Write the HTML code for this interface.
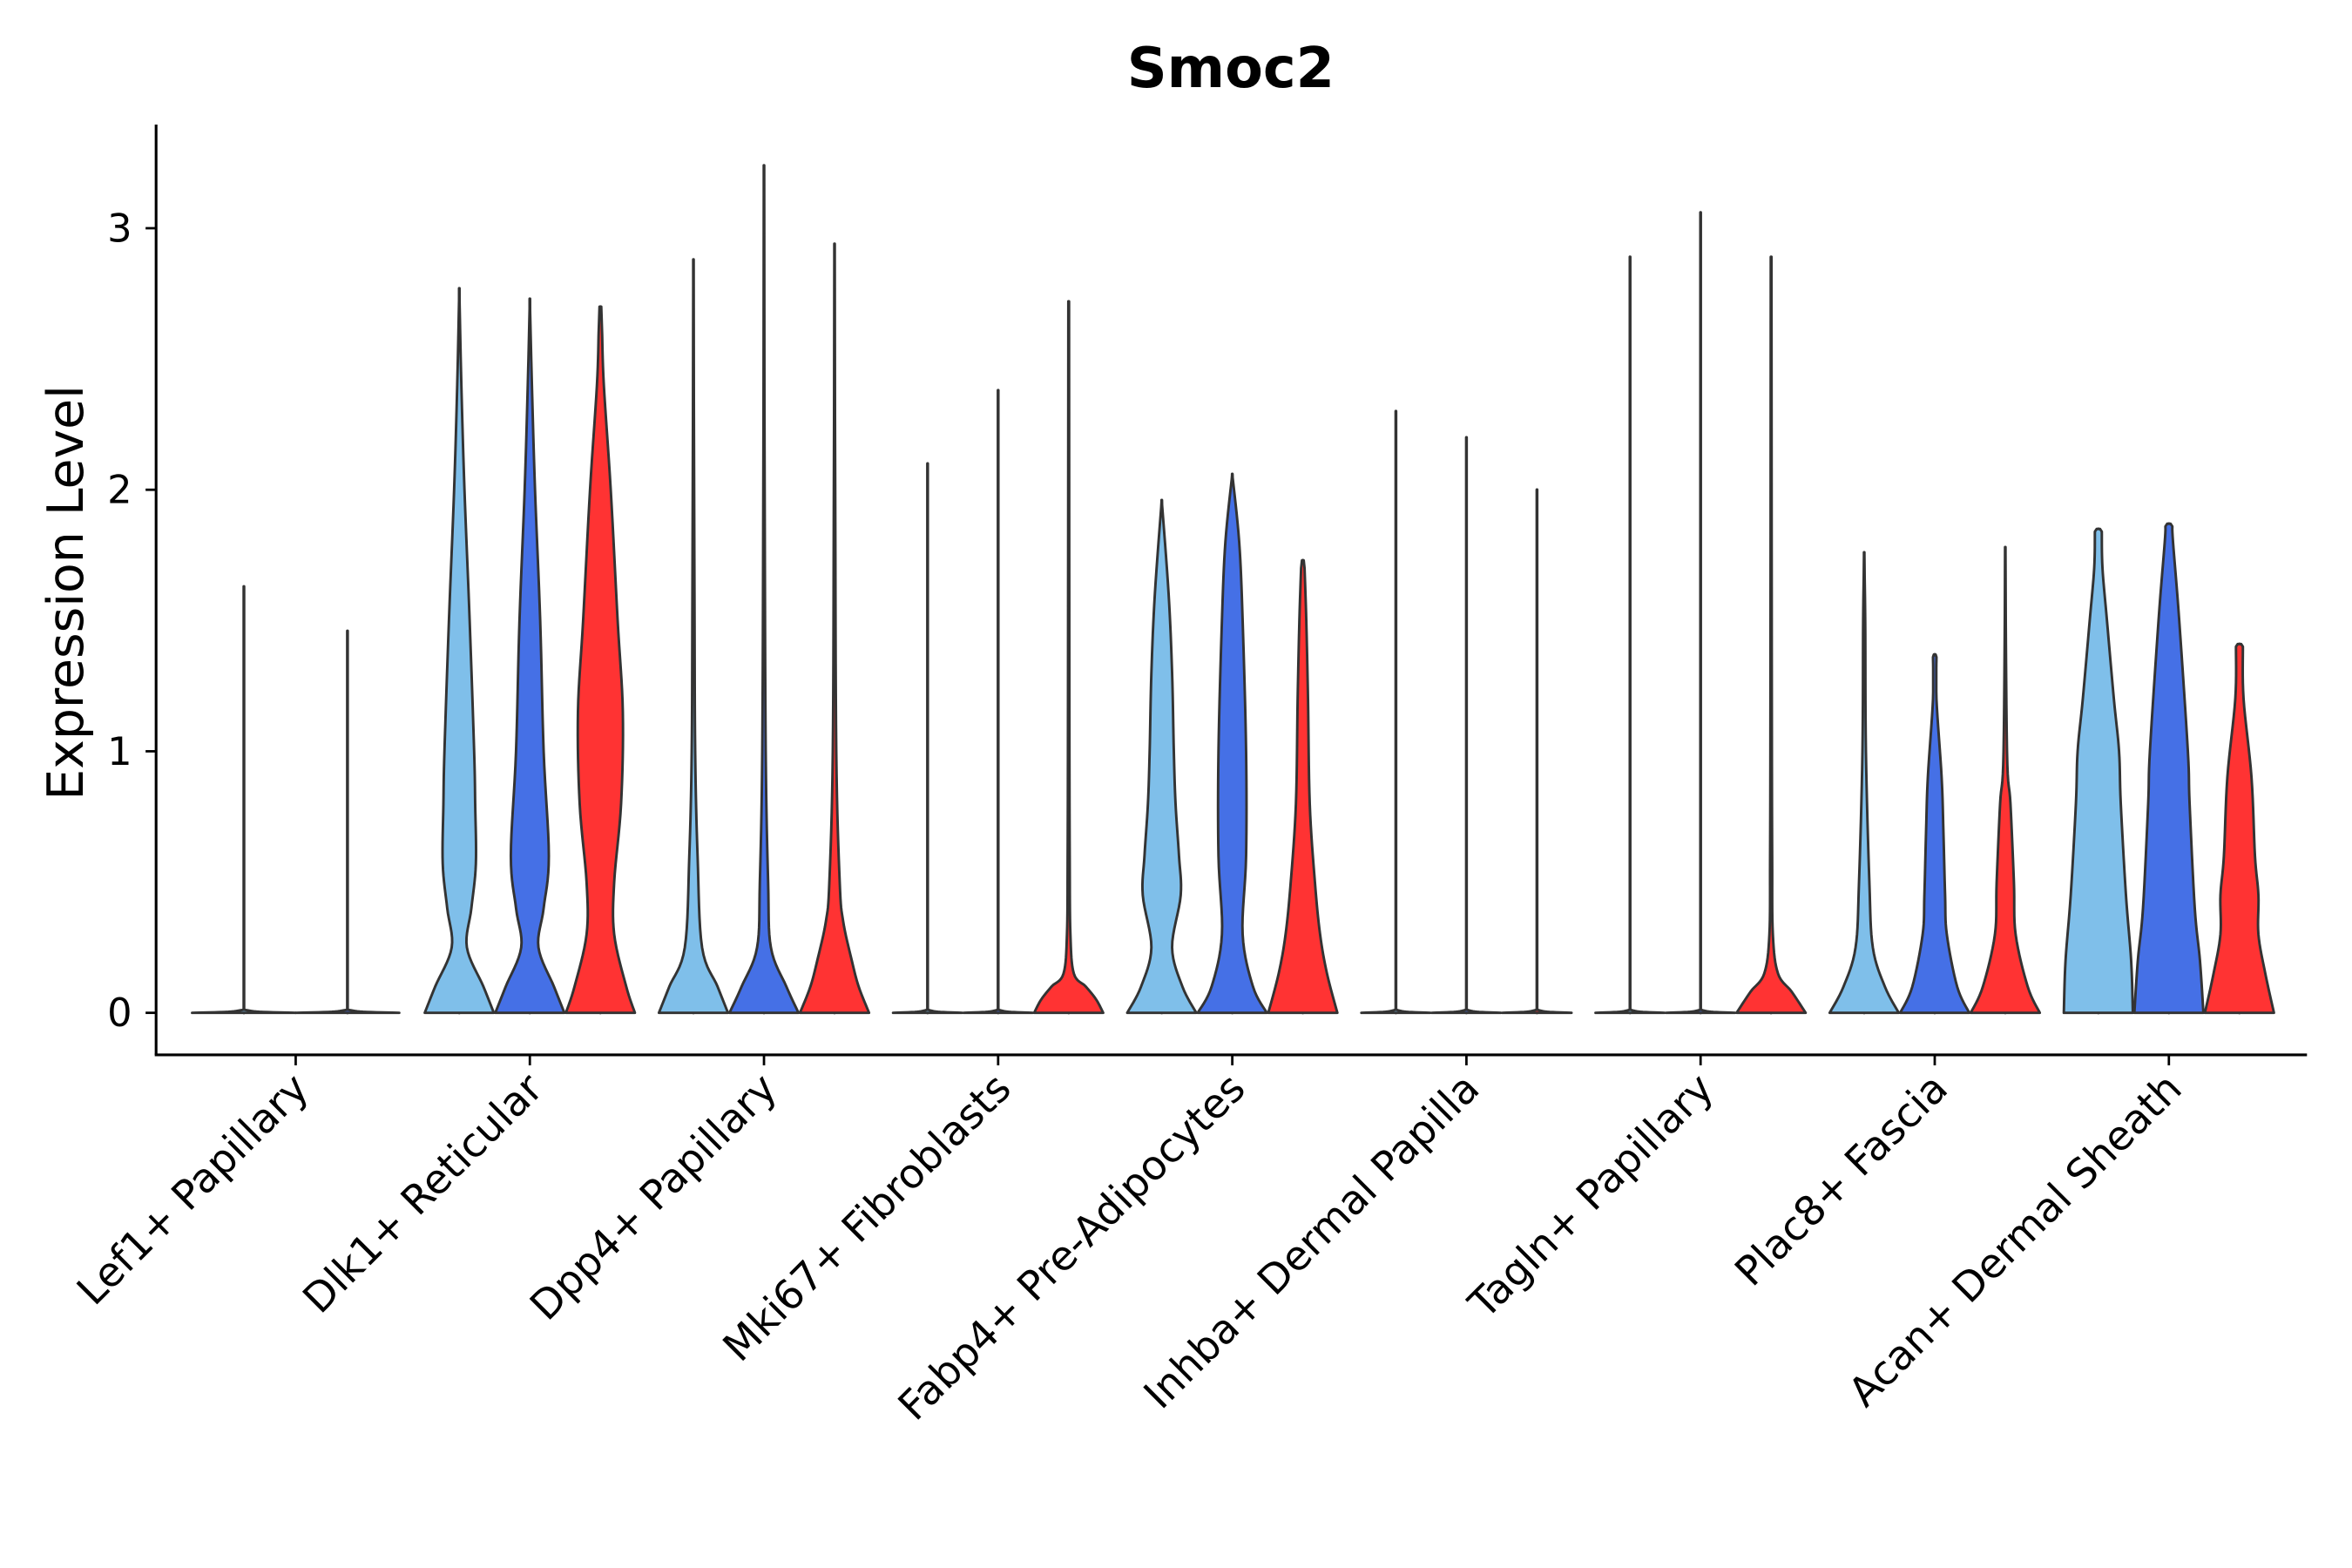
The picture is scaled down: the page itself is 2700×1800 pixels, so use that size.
<!DOCTYPE html>
<html><head><meta charset="utf-8"><style>
html,body{margin:0;padding:0;background:#fff;}
svg{display:block;font-family:"DejaVu Sans","Liberation Sans",sans-serif;}
</style></head><body>
<svg id="chart" width="2700" height="1800" viewBox="0 0 1567 1045" preserveAspectRatio="none" xmlns="http://www.w3.org/2000/svg">
<rect x="0" y="0" width="1567" height="1045" fill="#fff"/>
<text x="820" y="58" text-anchor="middle" font-size="37" font-weight="bold" fill="#000" font-family="DejaVu Sans, sans-serif">Smoc2</text>
<text transform="translate(55,395) rotate(-90)" text-anchor="middle" font-size="33" fill="#000" font-family="DejaVu Sans, sans-serif">Expression Level</text>
<g id="plot"></g>
</svg>
<script>
const categories = ["Lef1+ Papillary","Dlk1+ Reticular","Dpp4+ Papillary","Mki67+ Fibroblasts","Fabp4+ Pre-Adipocytes","Inhba+ Dermal Papilla","Tagln+ Papillary","Plac8+ Fascia","Acan+ Dermal Sheath"];
const yTicks = [0,1,2,3];
const groupColors = ["#7fbfea","#4570e6","#ff3333"];
const violinCategory = [0,0, 1,1,1, 2,2,2, 3,3,3, 4,4,4, 5,5,5, 6,6,6, 7,7,7, 8,8,8];
const violinGroup    = [0,1, 0,1,2, 0,1,2, 0,1,2, 0,1,2, 0,1,2, 0,1,2, 0,1,2, 0,1,2];
const violinMax      = [1.63,1.46, 2.77,2.73,2.70, 2.88,3.24,2.94, 2.10,2.38,2.72, 1.96,2.06,1.73, 2.30,2.20,2.00, 2.89,3.06,2.89, 1.76,1.37,1.78, 1.85,1.87,1.41];
const FLAT_Y = [0,0.004,0.012];
const FLAT_W = [1,0.3,0];
const profileY = [
 FLAT_Y, FLAT_Y,
 [0,0.1,0.25,0.4,0.57,0.8,1.0,1.5,2.0,2.4,2.77],
 [0,0.1,0.25,0.4,0.6,1.0,1.5,2.0,2.4,2.73],
 [0,0.1,0.3,0.5,0.8,1.15,1.5,2.0,2.4,2.6],
 [0,0.1,0.25,0.6,1.0,1.6,2.88],
 [0,0.1,0.25,0.5,1.0,2.0,3.24],
 [0,0.1,0.2,0.35,0.5,1.0,2.0,2.94],
 FLAT_Y, FLAT_Y,
 [0,0.05,0.1,0.15,0.3,0.6,1.2,2.72],
 [0,0.1,0.25,0.45,0.6,0.8,1.0,1.3,1.6,1.96],
 [0,0.1,0.3,0.6,1.0,1.5,1.8,2.06],
 [0,0.15,0.3,0.5,0.8,1.2,1.5,1.7],
 FLAT_Y, FLAT_Y, FLAT_Y,
 FLAT_Y, FLAT_Y,
 [0,0.08,0.15,0.3,0.6,1.2,2.89],
 [0,0.1,0.25,0.5,1.0,1.5,1.76],
 [0,0.1,0.3,0.45,0.7,0.9,1.2,1.36],
 [0,0.1,0.3,0.5,0.8,1.0,1.78],
 [0,0.2,0.45,0.8,1.0,1.2,1.5,1.7,1.84],
 [0,0.2,0.4,0.8,1.0,1.5,1.8,1.86],
 [0,0.15,0.3,0.45,0.6,0.9,1.2,1.40]
];
const profileW = [
 FLAT_W, FLAT_W,
 [1,0.7,0.22,0.35,0.48,0.46,0.43,0.3,0.15,0.06,0],
 [1,0.7,0.25,0.4,0.55,0.4,0.3,0.15,0.06,0],
 [1,0.75,0.4,0.4,0.6,0.65,0.5,0.3,0.1,0.05],
 [1,0.7,0.25,0.12,0.05,0.03,0],
 [1,0.65,0.2,0.12,0.05,0.02,0],
 [1,0.7,0.5,0.25,0.15,0.05,0.02,0],
 FLAT_W, FLAT_W,
 [1,0.8,0.5,0.15,0.05,0.03,0.02,0.01],
 [1,0.6,0.3,0.55,0.5,0.4,0.35,0.3,0.2,0],
 [1,0.6,0.3,0.4,0.4,0.3,0.2,0],
 [1,0.7,0.5,0.35,0.2,0.15,0.1,0.05],
 FLAT_W, FLAT_W, FLAT_W,
 FLAT_W, FLAT_W,
 [1,0.6,0.2,0.05,0.03,0.02,0.01],
 [1,0.6,0.25,0.15,0.05,0.03,0],
 [1,0.65,0.35,0.3,0.25,0.2,0.05,0.05],
 [1,0.65,0.3,0.25,0.15,0.05,0],
 [1,0.95,0.8,0.65,0.6,0.45,0.25,0.12,0.1],
 [1,0.9,0.75,0.6,0.55,0.3,0.12,0.1],
 [1,0.75,0.55,0.55,0.45,0.35,0.12,0.1]
];

const NS="http://www.w3.org/2000/svg";
const plot=document.getElementById('plot');
const X0=104, X1=1537, Y0=83, YB=703;
function yScale(v){return 675 - v*174.3;}
function xCenter(i){return 197 + i*156;}
function mk(tag,attrs){const e=document.createElementNS(NS,tag);for(const k in attrs)e.setAttribute(k,attrs[k]);plot.appendChild(e);return e;}
function smooth(ys, ws){
  const out=[];
  const n=ys.length;
  for(let k=0;k<n-1;k++){
    const p0=k>0?k-1:k, p3=k+2<n?k+2:k+1;
    for(let s=0;s<8;s++){
      const t=s/8,t2=t*t,t3=t2*t;
      const f=(a,b,c,d)=>0.5*((2*b)+(-a+c)*t+(2*a-5*b+4*c-d)*t2+(-a+3*b-3*c+d)*t3);
      const yy=f(ys[p0],ys[k],ys[k+1],ys[p3]);
      const lo=Math.min(ws[k],ws[k+1]);
      const ww=Math.max(lo*0.9,f(ws[p0],ws[k],ws[k+1],ws[p3]));
      out.push([yy,ww]);
    }
  }
  out.push([ys[n-1],ws[n-1]]);
  return out;
}

violinCategory.forEach((c,i)=>{
  const nGroups = violinCategory.filter(v=>v===c).length;
  const spacing = nGroups===2 ? 69 : 47;
  const hw = nGroups===2 ? 34.5 : 23;
  const cx = xCenter(c) + (violinGroup[i] - (nGroups-1)/2)*spacing;
  const mx = violinMax[i];
  const sm = smooth(profileY[i], profileW[i]);
  const last = sm[sm.length-1][1];
  const ln=mk('line',{x1:cx,x2:cx,y1:yScale(0),y2:yScale(mx),stroke:"#333",'stroke-width':2,'stroke-linecap':'round'});
  
  
  let pts = sm.map(p=>[cx+p[1]*hw, yScale(p[0])]);
  pts.push([cx+last*hw*0.5, yScale(mx)]);
  pts.push([cx-last*hw*0.5, yScale(mx)]);
  for(let k=sm.length-1;k>=0;k--) pts.push([cx-sm[k][1]*hw, yScale(sm[k][0])]);
  const d="M"+pts.map(p=>p[0].toFixed(2)+","+p[1].toFixed(2)).join("L")+"Z";
  const p=mk('path',{d:d,fill:groupColors[violinGroup[i]],stroke:"#333",'stroke-width':1.7,'stroke-linejoin':'round'});
  
  
});

const ya=mk('line',{x1:X0,x2:X0,y1:Y0,y2:YB,stroke:"#000",'stroke-width':1.8});


const xa=mk('line',{x1:X0-0.9,x2:X1,y1:YB,y2:YB,stroke:"#000",'stroke-width':1.8});



yTicks.forEach(t=>{
  const y=yScale(t);
  const tk=mk('line',{x1:X0-7,x2:X0,y1:y,y2:y,stroke:"#000",'stroke-width':1.6});
  
  
  const tx=mk('text',{x:X0-16,y:y+9,'text-anchor':'end','font-size':26,fill:'#000','font-family':'DejaVu Sans, sans-serif'});
  tx.textContent=t;
  
  
});

categories.forEach((c,i)=>{
  const x=xCenter(i);
  const tk=mk('line',{x1:x,x2:x,y1:YB,y2:YB+7,stroke:"#000",'stroke-width':1.6});
  
  
  const tx=mk('text',{transform:`translate(${x+10},${YB+24}) rotate(-45)`,'text-anchor':'end','font-size':27,fill:'#000','font-family':'DejaVu Sans, sans-serif'});
  tx.textContent=c;
  
  
});
</script>
</body></html>
